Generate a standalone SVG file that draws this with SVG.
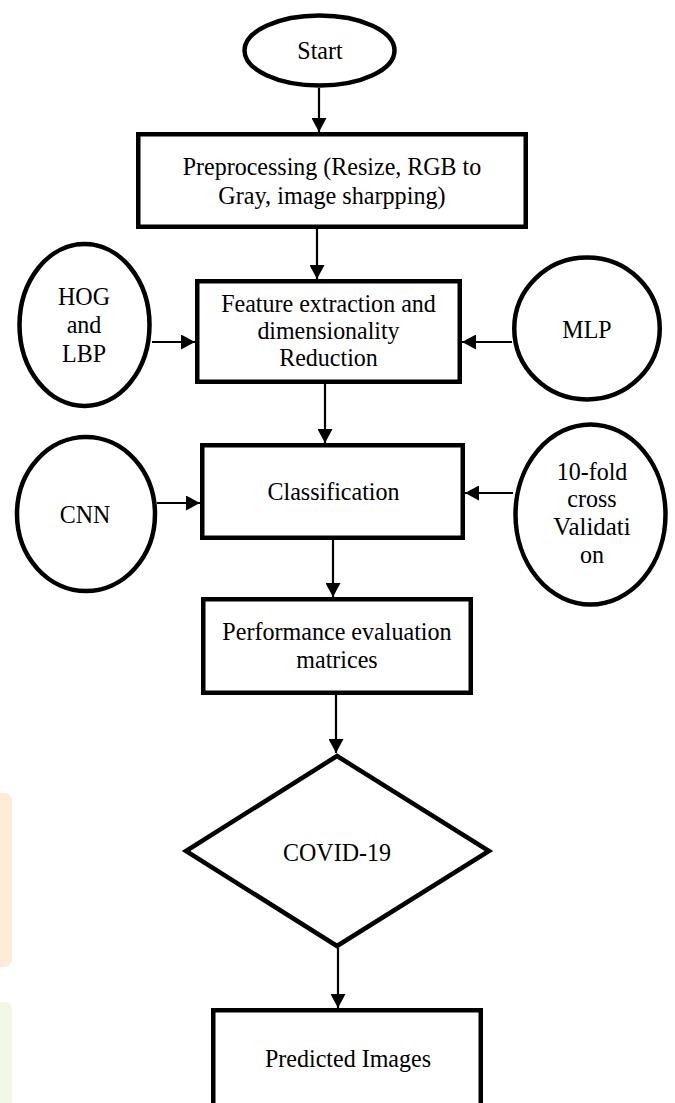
<svg xmlns="http://www.w3.org/2000/svg" width="675" height="1103" viewBox="0 0 675 1103">
<style>
  .shape { fill: #ffffff; stroke: #000000; stroke-width: 4.5; }
  .conn { stroke: #000000; stroke-width: 2.2; fill: none; marker-end: url(#arrow); }
  text { font-family: "Liberation Serif", "Times New Roman", serif; font-size: 25.5px; fill: #000000; text-anchor: middle; }
</style>
<defs>
  <marker id="arrow" viewBox="0 0 14 15" refX="14" refY="7.5" markerWidth="14" markerHeight="15" markerUnits="userSpaceOnUse" orient="auto">
    <path d="M0,0 L14,7.5 L0,15 z" fill="#000000"/>
  </marker>
</defs>
<rect x="0" y="0" width="675" height="1103" fill="#ffffff"/>
<g id="bg-decor">
  <rect x="-20" y="793" width="32" height="174" rx="8" fill="#feebd8"/>
  <rect x="-20" y="1002" width="32" height="120" rx="8" fill="#f1f9e6"/>
</g>
<g id="connectors">
  <line class="conn" x1="319" y1="88" x2="319" y2="132"/>
  <line class="conn" x1="317" y1="229" x2="317" y2="279"/>
  <line class="conn" x1="152" y1="342" x2="195" y2="342"/>
  <line class="conn" x1="512" y1="342" x2="462" y2="342"/>
  <line class="conn" x1="325" y1="384" x2="325" y2="443"/>
  <line class="conn" x1="157" y1="503" x2="200" y2="503"/>
  <line class="conn" x1="513" y1="493" x2="465" y2="493"/>
  <line class="conn" x1="333" y1="540" x2="333" y2="597"/>
  <line class="conn" x1="336" y1="695" x2="336" y2="753"/>
  <line class="conn" x1="338" y1="948" x2="338" y2="1008"/>
</g>
<g id="start">
  <ellipse class="shape" cx="319.5" cy="50.5" rx="75" ry="35"/>
  <text x="320" y="59" textLength="45.3" lengthAdjust="spacingAndGlyphs">Start</text>
</g>
<g id="preprocessing">
  <rect class="shape" x="138.25" y="134.25" width="387.5" height="92.5"/>
  <text x="332" y="175" textLength="298.6" lengthAdjust="spacingAndGlyphs">Preprocessing (Resize, RGB to</text>
  <text x="332" y="204" textLength="227.3" lengthAdjust="spacingAndGlyphs">Gray, image sharpping)</text>
</g>
<g id="hog-lbp">
  <ellipse class="shape" cx="84.5" cy="325" rx="65" ry="81"/>
  <text x="84" y="305" textLength="52" lengthAdjust="spacingAndGlyphs">HOG</text>
  <text x="84" y="333" textLength="34.7" lengthAdjust="spacingAndGlyphs">and</text>
  <text x="84" y="362" textLength="44" lengthAdjust="spacingAndGlyphs">LBP</text>
</g>
<g id="feature">
  <rect class="shape" x="197.25" y="281.25" width="262.5" height="100.5"/>
  <text x="328.5" y="312" textLength="214.6" lengthAdjust="spacingAndGlyphs">Feature extraction and</text>
  <text x="328.5" y="339" textLength="142.2" lengthAdjust="spacingAndGlyphs">dimensionality</text>
  <text x="328.5" y="366" textLength="98.7" lengthAdjust="spacingAndGlyphs">Reduction</text>
</g>
<g id="mlp">
  <ellipse class="shape" cx="587" cy="328.5" rx="72.75" ry="71"/>
  <text x="587" y="338" textLength="49.3" lengthAdjust="spacingAndGlyphs">MLP</text>
</g>
<g id="cnn">
  <ellipse class="shape" cx="86" cy="514" rx="69" ry="77"/>
  <text x="85" y="523" textLength="50.7" lengthAdjust="spacingAndGlyphs">CNN</text>
</g>
<g id="classification">
  <rect class="shape" x="202.25" y="445.25" width="260.5" height="92.5"/>
  <text x="333.5" y="500" textLength="132" lengthAdjust="spacingAndGlyphs">Classification</text>
</g>
<g id="tenfold">
  <ellipse class="shape" cx="590.5" cy="514.5" rx="75" ry="90"/>
  <text x="592" y="480" textLength="70.7" lengthAdjust="spacingAndGlyphs">10-fold</text>
  <text x="592" y="507" textLength="49.3" lengthAdjust="spacingAndGlyphs">cross</text>
  <text x="592" y="535" textLength="77.3" lengthAdjust="spacingAndGlyphs">Validati</text>
  <text x="592" y="563" textLength="24" lengthAdjust="spacingAndGlyphs">on</text>
</g>
<g id="performance">
  <rect class="shape" x="203.25" y="599.25" width="267.5" height="93.5"/>
  <text x="337" y="640" textLength="229.3" lengthAdjust="spacingAndGlyphs">Performance evaluation</text>
  <text x="337" y="668" textLength="81.3" lengthAdjust="spacingAndGlyphs">matrices</text>
</g>
<g id="covid">
  <polygon class="shape" points="337,756 489,851 337,946 186,851"/>
  <text x="337" y="861" textLength="108" lengthAdjust="spacingAndGlyphs">COVID-19</text>
</g>
<g id="predicted">
  <rect class="shape" x="213.25" y="1010.25" width="267.5" height="110"/>
  <text x="348" y="1067" textLength="166" lengthAdjust="spacingAndGlyphs">Predicted Images</text>
</g>
</svg>
